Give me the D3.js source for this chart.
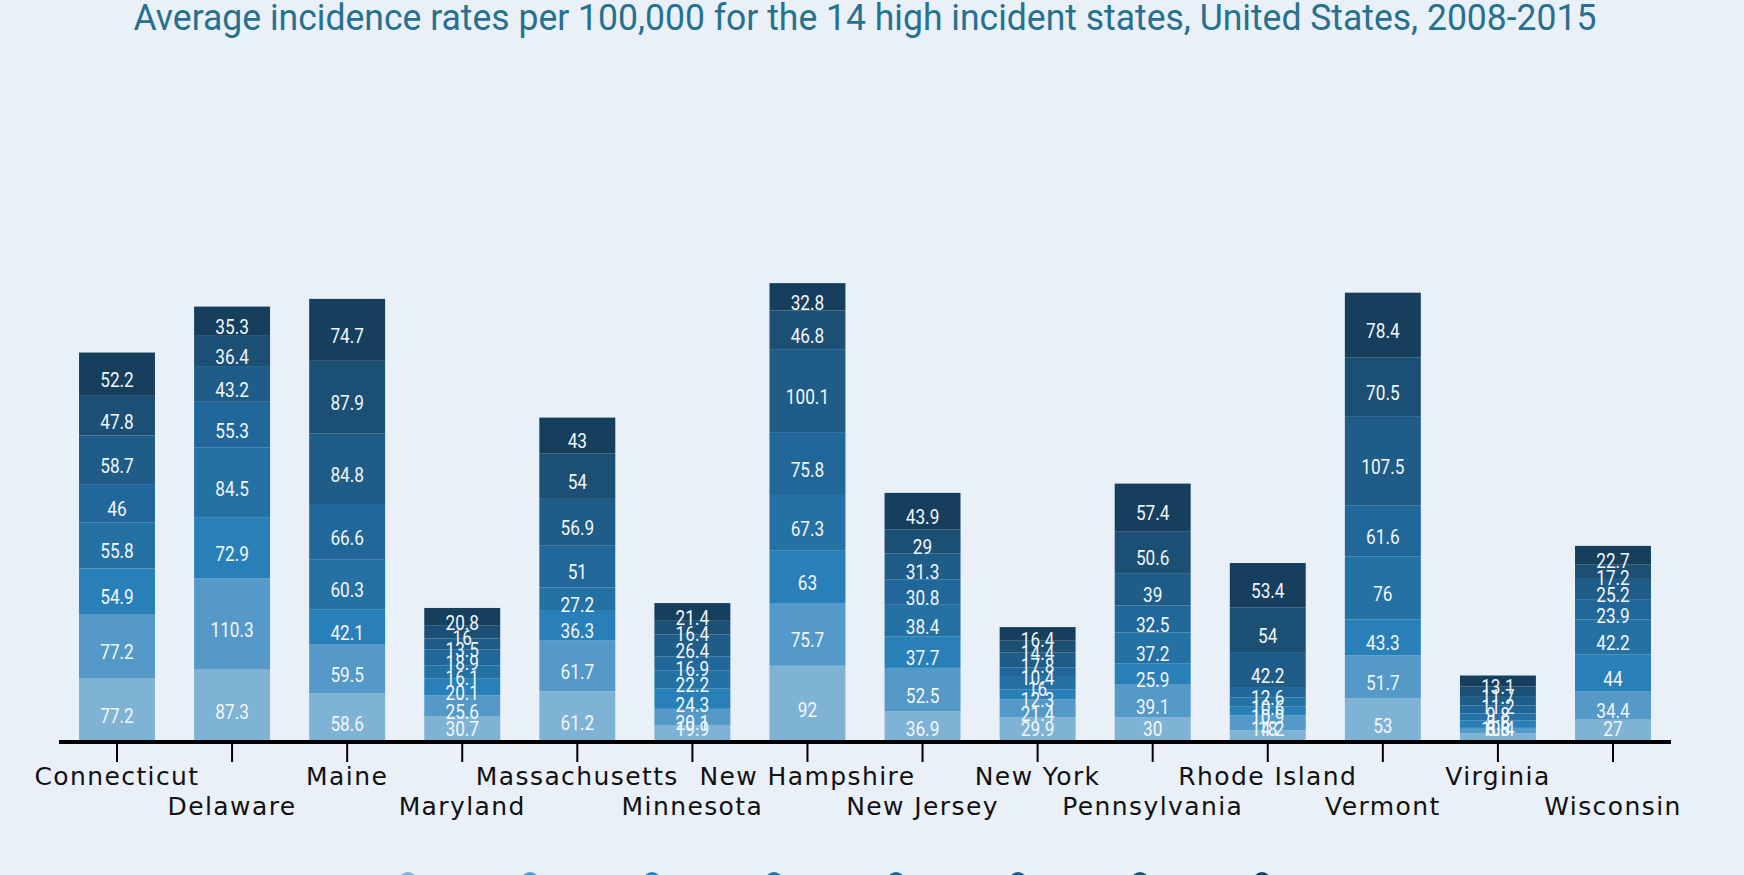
<!DOCTYPE html>
<html>
<head>
<meta charset="utf-8">
<script src="https://cdn.jsdelivr.net/npm/d3@7"></script>
<style>
  html, body { margin: 0; padding: 0; background: #E9F0F7; overflow: hidden; }
  svg { display: block; }
</style>
</head>
<body>
<svg id="chart" width="1744" height="875"></svg>
<script>
const title = "Average incidence rates per 100,000 for the 14 high incident states, United States, 2008-2015";
const states = ["Connecticut","Delaware","Maine","Maryland","Massachusetts","Minnesota","New Hampshire","New Jersey","New York","Pennsylvania","Rhode Island","Vermont","Virginia","Wisconsin"];
const years = ["2008","2009","2010","2011","2012","2013","2014","2015"];
const v2008 = [77.2, 87.3, 58.6, 30.7, 61.2, 19.9, 92, 36.9, 29.9, 30, 14.2, 53, 10.4, 27];
const v2009 = [77.2, 110.3, 59.5, 25.6, 61.7, 20.1, 75.7, 52.5, 21.4, 39.1, 18, 51.7, 6.6, 34.4];
const v2010 = [54.9, 72.9, 42.1, 20.1, 36.3, 24.3, 63, 37.7, 12.3, 25.9, 10.9, 43.3, 8.8, 44];
const v2011 = [55.8, 84.5, 60.3, 16.1, 27.2, 22.2, 67.3, 38.4, 16, 37.2, 10.6, 76, 8.6, 42.2];
const v2012 = [46, 55.3, 66.6, 18.9, 51, 16.9, 75.8, 30.8, 10.4, 32.5, 12.6, 61.6, 9.8, 23.9];
const v2013 = [58.7, 43.2, 84.8, 13.5, 56.9, 26.4, 100.1, 31.3, 17.8, 39, 42.2, 107.5, 11.2, 25.2];
const v2014 = [47.8, 36.4, 87.9, 16, 54, 16.4, 46.8, 29, 14.4, 50.6, 54, 70.5, 11.7, 17.2];
const v2015 = [52.2, 35.3, 74.7, 20.8, 43, 21.4, 32.8, 43.9, 16.4, 57.4, 53.4, 78.4, 13.1, 22.7];
const colors = ["#7FB3D5","#5499C7","#2980B9","#2471A3","#21679A","#1F5D88","#1B5074","#163F5E"];

const seriesValues = [v2008, v2009, v2010, v2011, v2012, v2013, v2014, v2015];
const table = states.map((s, i) => {
  const row = { state: s };
  years.forEach((y, k) => { row[y] = seriesValues[k][i]; });
  return row;
});

const svg = d3.select("#chart");
const W = 1744, H = 875;
const baseY = 742;

svg.append("rect").attr("width", W).attr("height", H).attr("fill", "#E9F0F7");

svg.append("text")
  .attr("x", W / 2 - 7).attr("y", 30)
  .attr("text-anchor", "middle")
  .attr("font-family", "Roboto, sans-serif")
  .attr("font-size", 37)
  .attr("fill", "#27708F")
  .attr("textLength", 1463)
  .attr("lengthAdjust", "spacingAndGlyphs")
  .text(title);

const x = d3.scaleBand().domain(states).range([59, 1671]).paddingInner(0.34).paddingOuter(0.174);
const y = d3.scaleLinear().domain([0, 600]).range([baseY, baseY - 600 * 0.829]);

const stack = d3.stack().keys(years);
const layers = stack(table);

const g = svg.append("g");
const layerG = g.selectAll("g.layer").data(layers).join("g")
  .attr("class", "layer")
  .attr("fill", (d, i) => colors[i]);

layerG.selectAll("rect").data(d => d).join("rect")
  .attr("x", d => x(d.data.state))
  .attr("width", x.bandwidth())
  .attr("y", d => y(d[1]))
  .attr("height", d => y(d[0]) - y(d[1]));

const labelG = svg.append("g");
layers.forEach((layer, i) => {
  layer.forEach(d => {
    const cy = (y(d[0]) + y(d[1])) / 2;
    const by = Math.min(cy + 13, baseY - 6.5);
    const cx = x(d.data.state) + x.bandwidth() / 2;
    labelG.append("text")
      .attr("transform", `translate(${cx},${by}) scale(0.82,1)`)
      .attr("text-anchor", "middle")
      .attr("font-family", "Roboto, sans-serif")
      .attr("font-size", 21)
      .attr("fill", "#F4F7FA")
      .text(d.data[layer.key]);
  });
});

// axis
const axisG = svg.append("g").attr("transform", `translate(0,${baseY})`);
const axis = d3.axisBottom(x).tickSizeInner(20).tickSizeOuter(0).tickPadding(0);
axisG.call(axis);
axisG.select(".domain").attr("stroke", "#000").attr("stroke-width", 4).attr("d", "M59,0H1671");
axisG.selectAll(".tick line").attr("stroke", "#000").attr("stroke-width", 2);
axisG.selectAll(".tick text")
  .attr("font-family", "'DejaVu Sans', sans-serif")
  .attr("font-size", 25)
  .attr("letter-spacing", "1.4px")
  .attr("fill", "#111")
  .attr("dy", null)
  .attr("y", (d, i) => i % 2 === 0 ? 43 : 73);

// legend (circles peek in at the bottom edge; labels sit below the visible area)
const legend = svg.append("g");
const legX = d3.scalePoint().domain(years).range([408, 1262]);
years.forEach((yr, i) => {
  legend.append("circle")
    .attr("cx", legX(yr)).attr("cy", 881).attr("r", 9)
    .attr("fill", colors[i]);
  legend.append("text")
    .attr("x", legX(yr)).attr("y", 912)
    .attr("text-anchor", "middle")
    .attr("font-family", "'DejaVu Sans', sans-serif")
    .attr("font-size", 18)
    .attr("fill", "#111")
    .text(yr);
});
</script>
</body>
</html>
